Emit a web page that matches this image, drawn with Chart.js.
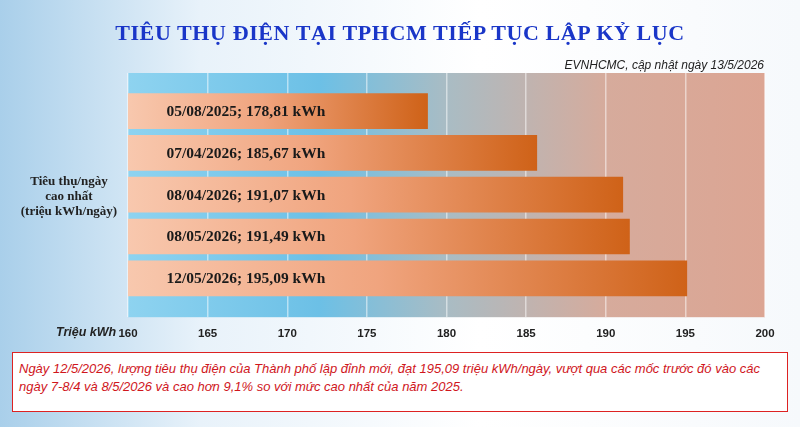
<!DOCTYPE html>
<html><head><meta charset="utf-8">
<script src="https://cdn.jsdelivr.net/npm/chart.js@4"></script>
<style>
body{margin:0;width:800px;height:427px;overflow:hidden;background:linear-gradient(90deg,#a9cfea 0%,#e8f2fa 25%,#ffffff 60%,#f6f9fc 100%);font-family:"Liberation Sans",Arial,sans-serif;position:relative}
#wrap{position:absolute;left:0;top:0;width:800px;height:427px}
#title{position:absolute;top:20px;width:800px;text-align:center;font-family:"Liberation Serif",serif;font-weight:bold;font-size:22px;color:#1a36c8;letter-spacing:0.6px}
#sub{position:absolute;top:58px;right:36px;font-style:italic;font-size:12px;color:#222}
#ytitle{position:absolute;left:12px;top:173px;width:114px;text-align:center;font-family:"Liberation Serif",serif;font-weight:bold;font-size:13px;line-height:15px;color:#222}
#unit{position:absolute;left:56px;top:325px;font-style:italic;font-weight:bold;font-size:12.5px;color:#222}
#note{position:absolute;left:12px;top:352px;width:762px;height:44px;border:1.5px solid #d22;padding:7px 6px;font-style:italic;font-size:13px;line-height:18px;color:#d0161c;background:#fff}
</style></head><body>
<div id="wrap"><canvas id="c"></canvas></div>
<div id="title">TIÊU THỤ ĐIỆN TẠI TPHCM TIẾP TỤC LẬP KỶ LỤC</div>
<div id="sub">EVNHCMC, cập nhật ngày 13/5/2026</div>
<div id="ytitle">Tiêu thụ/ngày<br>cao nhất<br>(triệu kWh/ngày)</div>
<div id="unit">Triệu kWh</div>
<div id="note">Ngày 12/5/2026, lượng tiêu thụ điện của Thành phố lập đỉnh mới, đạt 195,09 triệu kWh/ngày, vượt qua các mốc trước đó vào các ngày 7-8/4 và 8/5/2026 và cao hơn 9,1% so với mức cao nhất của năm 2025.</div>
<script>
const dates = ["05/08/2025", "07/04/2026", "08/04/2026", "08/05/2026", "12/05/2026"];
const values = [178.81, 185.67, 191.07, 191.49, 195.09];
const valueLabels = ["178,81", "185,67", "191,07", "191,49", "195,09"];
const xTicks = [160, 165, 170, 175, 180, 185, 190, 195, 200];

const bgPlugin = {
  id: "bg",
  beforeDraw(chart) {
    const { ctx, chartArea: a } = chart;
    const g = ctx.createLinearGradient(a.left, 0, a.right, 0);
    g.addColorStop(0, "#8ed3f0");
    g.addColorStop(0.3, "#6cc0e6");
    g.addColorStop(0.5, "#a9bcc4");
    g.addColorStop(0.75, "#d6ab9c");
    g.addColorStop(1, "#dca593");
    ctx.save();
    ctx.fillStyle = g;
    ctx.fillRect(a.left, a.top, a.right - a.left, a.bottom - a.top);
    ctx.restore();
  },
  afterDatasetsDraw(chart) {
    const { ctx } = chart;
    const x = chart.scales.x, y = chart.scales.y;
    ctx.save();
    ctx.font = "bold 15.5px 'Liberation Serif', serif";
    ctx.fillStyle = "#1a1a1a";
    ctx.textAlign = "center";
    ctx.textBaseline = "middle";
    dates.forEach((d, i) => {
      ctx.fillText(d + "; " + valueLabels[i] + " kWh", x.getPixelForValue(167.4), y.getPixelForValue(i) + 1);
    });
    ctx.restore();
  }
};

new Chart(document.getElementById("c"), {
  type: "bar",
  data: {
    datasets: [{
      data: values.map((v, i) => ({ x: v, y: i })),
      barThickness: 35,
      borderWidth: 0,
      backgroundColor(ctx) {
        const chart = ctx.chart, a = chart.chartArea;
        if (!a) return "#f0a070";
        const end = chart.scales.x.getPixelForValue(values[ctx.dataIndex]);
        const g = chart.ctx.createLinearGradient(a.left, 0, end, 0);
        g.addColorStop(0, "#f8c8ae");
        g.addColorStop(0.45, "#f0a47e");
        g.addColorStop(1, "#cf6218");
        return g;
      }
    }]
  },
  options: {
    indexAxis: "y",
    responsive: true,
    maintainAspectRatio: false,
    animation: false,
    layout: { padding: { left: 128, top: 73, right: 35, bottom: 76 } },
    plugins: { legend: { display: false }, tooltip: { enabled: false } },
    scales: {
      x: {
        min: 160, max: 200,
        afterBuildTicks(s) { s.ticks = xTicks.map(v => ({ value: v })); },
        grid: { color: "rgba(255,255,255,0.5)", lineWidth: 1.5, drawTicks: false },
        border: { display: false },
        ticks: { color: "#222", padding: 10, font: { family: "'Liberation Sans', Arial", weight: "bold", size: 11.5 } }
      },
      y: {
        type: "linear", min: -0.91, max: 4.93, reverse: true, offset: false,
        display: false, grid: { display: false }
      }
    }
  },
  plugins: [bgPlugin]
});
</script>
</body></html>
